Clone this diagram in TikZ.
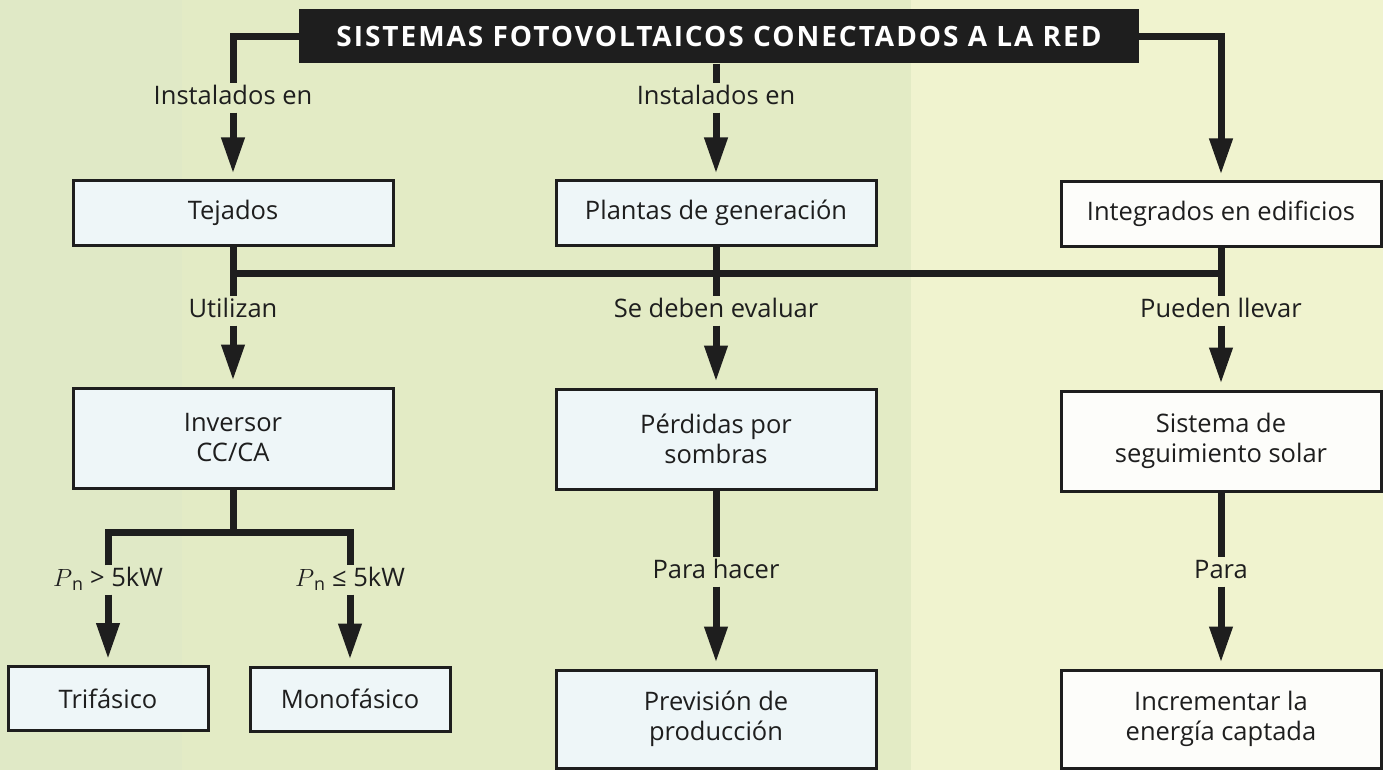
\documentclass[tikz,border=0pt]{standalone}
\usepackage{fontspec}
\setmainfont{Open Sans}
\usetikzlibrary{arrows.meta}
\definecolor{fvink}   {RGB}{ 30, 30, 30}
\definecolor{rowblue} {RGB}{238,246,248}
\definecolor{rowwhite}{RGB}{253,253,250}
\definecolor{bgstrip} {RGB}{224,233,198}
\definecolor{bggreen} {RGB}{227,235,197}
\definecolor{bgyellow}{RGB}{240,243,207}
\tikzset{
  blk/.style={draw=fvink,fill=rowblue,line width=3pt,
              minimum width=320pt,minimum height=64pt,inner sep=0pt,
              font=\fontsize{25.5}{30}\selectfont,text=fvink,align=center},
  blkwhite/.style={blk,fill=rowwhite},
  blktall/.style={blk,minimum height=100pt},
  blktallwhite/.style={blktall,fill=rowwhite},
  blksmall/.style={blk,minimum width=200pt},
  hdr/.style={fill=fvink,text=white,minimum width=840pt,minimum height=54pt,
              font=\fontsize{28}{32}\selectfont\bfseries\addfontfeatures{LetterSpace=7}},
  wire/.style={draw=fvink,line width=7pt},
  arr/.style={wire,-{Triangle[length=36pt,width=22pt]},shorten >=6pt},
  lbl/.style={font=\fontsize{25.5}{30}\selectfont,text=fvink,
              text height=18pt,text depth=5pt,inner sep=3pt},
}
\begin{document}
\begin{tikzpicture}[x=1pt,y=-1pt]
  \fill[bgstrip]  (0,0)   rectangle (182,770);
  \fill[bggreen]  (182,0) rectangle (911,770);
  \fill[bgyellow] (911,0) rectangle (1383,770);
  \useasboundingbox (0,0) rectangle (1383,770);

  \node[hdr](TIT) at (719,36.5) {SISTEMAS FOTOVOLTAICOS CONECTADOS A LA RED};
  \node[blk](TEJ) at (233,213) {Tejados};
  \node[blk](PLA) at (716,213) {Plantas de generación};
  \node[blkwhite](INT) at (1221,214) {Integrados en edificios};
  \node[blktall](INV) at (233,438) {Inversor\\CC/CA};
  \node[blktall](PER) at (716,439) {Pérdidas por\\sombras};
  \node[blktallwhite](SEG) at (1221,441) {Sistema de\\seguimiento solar};
  \node[blksmall](TRI) at (108,698.5) {Trifásico};
  \node[blksmall](MON) at (350,699) {Monofásico};
  \node[blktall,minimum height=98pt](PRV) at (716,719) {Previsión de\\producción};
  \node[blktallwhite,minimum height=98pt](INC) at (1221,719) {Incrementar la\\energía captada};

  \node[lbl](LTEJ) at (233,98)  {Instalados en};
  \node[lbl](LPLA) at (716,98)  {Instalados en};
  \node[lbl](LINV) at (233,311) {Utilizan};
  \node[lbl](LPER) at (716,311) {Se deben evaluar};
  \node[lbl](LSEG) at (1221,311) {Pueden llevar};
  \node[lbl](LTRI) at (108,580) {$P$\textsubscript{n} > 5kW};
  \node[lbl](LMON) at (350,580) {$P$\textsubscript{n} ≤ 5kW};
  \node[lbl](LPRV) at (716,572) {Para hacer};
  \node[lbl](LINC) at (1221,572) {Para};

  \coordinate (BUS)  at (0,273);
  \coordinate (FORK) at (0,532);

  \draw[wire](TIT.west) -| (LTEJ);
  \draw[arr](LTEJ) -- (TEJ);
  \draw[wire](LPLA |- TIT.south) -- (LPLA);
  \draw[arr](LPLA) -- (PLA);
  \draw[arr](TIT.east) -| (INT);

  \draw[wire](TEJ) -- (LINV);
  \draw[wire](PLA) -- (LPER);
  \draw[wire](INT) -- (LSEG);
  \draw[wire](TEJ.south |- BUS) -- (INT.south |- BUS);
  \draw[arr](LINV) -- (INV);
  \draw[arr](LPER) -- (PER);
  \draw[arr](LSEG) -- (SEG);

  \draw[wire](INV) -- (INV.south |- FORK);
  \draw[wire](LTRI) |- (INV.south |- FORK) -| (LMON);
  \draw[arr](LTRI) -- (TRI);
  \draw[arr](LMON) -- (MON);

  \draw[wire](PER) -- (LPRV);
  \draw[arr](LPRV) -- (PRV);
  \draw[wire](SEG) -- (LINC);
  \draw[arr](LINC) -- (INC);
\end{tikzpicture}
\end{document}
